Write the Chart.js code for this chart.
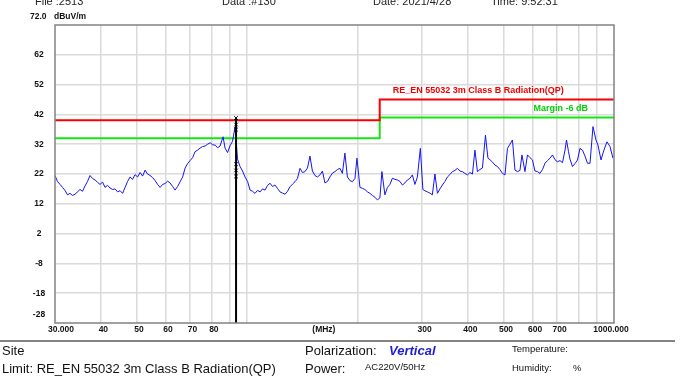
<!DOCTYPE html>
<html>
<head>
<meta charset="utf-8">
<script src="https://cdn.jsdelivr.net/npm/chart.js@4/dist/chart.umd.min.js"></script>
<style>
  html, body { margin: 0; padding: 0; background: #fff; }
  canvas { display: block; }
</style>
</head>
<body>
<canvas id="emcChart" width="680" height="377"></canvas>
<script>
var freqs = [
  30.0, 30.47, 30.96, 31.45, 31.94, 32.45, 32.96, 33.48, 34.01, 34.55,
  35.10, 35.65, 36.22, 36.79, 37.37, 37.96, 38.57, 39.18, 39.80, 40.43,
  41.06, 41.71, 42.37, 43.04, 43.73, 44.42, 45.12, 45.83, 46.56, 47.30,
  48.04, 48.80, 49.57, 50.36, 51.16, 51.97, 52.79, 53.62, 54.47, 55.33,
  56.21, 57.10, 58.00, 58.92, 59.85, 60.80, 61.76, 62.74, 63.73, 64.74,
  65.76, 66.80, 67.86, 68.93, 70.02, 71.13, 72.23, 73.37, 74.53, 75.71,
  76.94, 78.16, 79.40, 80.65, 81.9, 83.2, 84.49, 86.1, 87.18, 88.56,
  89.96, 91.38, 92.81, 94.28, 95.77, 97.28, 98.82, 100.4, 101.97, 103.6,
  105.2, 106.9, 108.6, 110.3, 112.0, 113.8, 115.6, 117.4, 119.2, 121.1,
  123.0, 125.0, 127.0, 129.0, 131.0, 133.1, 135.2, 137.3, 139.5, 141.7,
  143.9, 146.2, 148.5, 150.8, 153.2, 155.6, 158.1, 160.6, 163.1, 165.7,
  168.3, 171.0, 173.7, 176.4, 179.2, 182.0, 184.9, 187.8, 190.8, 193.8,
  196.9, 199.4, 203.2, 206.4, 209.6, 213.0, 216.3, 219.7, 223.2, 226.7,
  230.3, 233.2, 237.6, 241.4, 245.2, 249.1, 253.0, 257.0, 261.1, 265.2,
  269.4, 273.7, 277.9, 282.3, 286.8, 291.3, 296.8, 301.5, 305.4, 310.2,
  315.0, 320.0, 325.2, 330.3, 335.5, 340.8, 346.2, 351.7, 357.2, 362.9,
  368.6, 374.4, 380.3, 386.3, 392.6, 398.8, 405.1, 411.5, 418.0, 424.6,
  431.3, 438.1, 446.5, 453.5, 459.2, 466.5, 473.9, 481.4, 489.0, 496.7,
  504.6, 512.6, 520.7, 528.9, 537.3, 545.8, 554.4, 561.4, 572.1, 581.1,
  590.3, 599.6, 609.1, 618.7, 628.6, 638.5, 648.6, 658.9, 669.3, 679.9,
  690.6, 701.5, 712.6, 723.9, 735.4, 742.4, 751.8, 758.8, 770.8, 782.9,
  795.3, 807.9, 820.7, 833.6, 846.8, 860.2, 876.5, 893.1, 904.4, 921.7,
  933.3, 945.1, 957.0, 975.2, 993.6
]
var levels = [
  21.5, 19.5, 18.5, 17.5, 16.5, 15, 15.5, 14.8, 15.2, 16,
  16.8, 16.2, 18, 19.5, 21.5, 20.5, 20, 19.2, 18.5, 19.3,
  17.5, 18.2, 17.3, 16.8, 17, 16, 16.4, 15.5, 17.5, 19.5,
  21, 20.2, 21.8, 21, 22.5, 21.3, 23.3, 22, 21.5, 20.8,
  19.8, 18.5, 17.5, 18.5, 18.8, 19.6, 19, 17.8, 16.6, 17.8,
  19.4, 21, 24, 25.5, 26.5, 27.5, 29.5, 30, 30.7, 31.2,
  31.4, 32, 32.5, 31.8, 31.7, 30.8, 31.4, 34.5, 30.7, 29.2,
  31.5, 33, 37.8, 27, 24.5, 23, 21, 19.5, 16.6, 16.2,
  15.5, 16.5, 16, 17, 16.6, 18.2, 18.9, 17.8, 18.3, 17.2,
  16, 15.6, 15.2, 16.2, 17.7, 18.6, 19.4, 20.5, 23.9, 22.5,
  22.8, 24, 28, 23, 21.5, 21, 21.7, 23, 19, 19.5,
  21, 22.3, 22.8, 23.5, 23.9, 22.2, 29, 21, 19.8, 19.4,
  20.5, 27.3, 17.5, 17.2, 16.8, 16, 15.5, 14.8, 14.2, 13.3,
  14, 22.8, 15, 17.5, 18.5, 20.6, 20.2, 20, 19.5, 18.3,
  19, 20, 20.5, 21.7, 18.5, 21, 30.6, 16.8, 16.4, 16,
  15.6, 15, 22, 15.5, 17, 18.3, 19.5, 21, 21.8, 22.8,
  23.2, 23.9, 23, 22.8, 22.2, 21.7, 22.5, 22, 30, 22.8,
  23.5, 24, 35, 27.3, 26.8, 26, 25, 24.5, 23.5, 22.2,
  21.7, 30.6, 32, 33.4, 23.3, 22.8, 23.2, 28.4, 22.8, 28.4,
  27.5, 26.7, 23, 22.8, 22.2, 23.5, 25.6, 26.5, 27.3, 28.4,
  26.8, 26.1, 26.5, 25.8, 30, 33.4, 29.5, 27, 24.5, 25.5,
  26.7, 30.6, 30, 28, 25.6, 25.6, 37.9, 33.4, 31.7, 26.7,
  29, 31, 32.8, 31.2, 27.3
]

// EN 55032 class B 3m QP limit and -6 dB margin (step at 230 MHz)
var limitFreqs = [30, 230, 230, 1000]
var limitQP = [40, 40, 47, 47]
var limitMargin = [34, 34, 41, 41]

// marker at 93.4 MHz
var markerFreq = 93.4
var markerLevels = [40.8, 38.6, 36.9, 25.3, 23.2, 21.2]

// axis
var yTicks = [62, 52, 42, 32, 22, 12, 2, -8, -18, -28]
var xGrid = [40, 50, 60, 70, 80, 90, 100, 200, 300, 400, 500, 600, 700, 800, 900]
var xLabels = [40, 50, 60, 70, 80, 300, 400, 500, 600, 700]

function pairs(xs, ys) {
  return xs.map(function (x, i) { return { x: x, y: ys[i] } })
}

var textPlugin = {
  id: 'emcText',
  beforeDraw: function (chart) {
    var c = chart.ctx
    c.save()
    c.fillStyle = '#fff'
    c.fillRect(0, 0, chart.width, chart.height)
    c.restore()
  },
  afterDraw: function (chart) {
    var c = chart.ctx
    var xs = chart.scales.x
    var ys = chart.scales.y
    var a = chart.chartArea
    c.save()

    // plot frame
    c.strokeStyle = 'rgb(130,130,130)'
    c.lineWidth = 1.5
    c.strokeRect(a.left, a.top, a.right - a.left, a.bottom - a.top)

    // header (cut off at the top edge)
    c.fillStyle = '#222'
    c.font = '11px "Liberation Sans", Arial, sans-serif'
    c.textAlign = 'left'
    c.textBaseline = 'alphabetic'
    c.fillText('File :2513', 35, 5)
    c.fillText('Data :#130', 222, 5)
    c.fillText('Date: 2021/4/28', 373, 5)
    c.fillText('Time: 9:52:31', 491, 5)

    // y labels
    c.fillStyle = '#111'
    c.font = 'bold 8.5px "Liberation Sans", Arial, sans-serif'
    c.textBaseline = 'middle'
    c.fillText('72.0', 30, 17)
    c.fillText('dBuV/m', 54, 17)
    c.textAlign = 'center'
    yTicks.forEach(function (v) {
      var py = ys.getPixelForValue(v)
      if (v === -28) py -= 8
      c.fillText(String(v), 39, py)
    })

    // x labels
    var ly = 330
    xLabels.forEach(function (v) {
      c.fillText(String(v), xs.getPixelForValue(v) + 2.5, ly)
    })
    c.fillText('30.000', xs.getPixelForValue(30) + 6, ly)
    c.fillText('1000.000', xs.getPixelForValue(1000) - 3, ly)
    c.fillText('(MHz)', a.left + (a.right - a.left) * 0.481, ly)

    // limit captions
    c.font = 'bold 9px "Liberation Sans", Arial, sans-serif'
    c.fillStyle = 'rgb(240,0,0)'
    c.textAlign = 'left'
    c.fillText('RE_EN 55032 3m Class B Radiation(QP)', xs.getPixelForValue(230) + 13, ys.getPixelForValue(47) - 9)
    c.fillStyle = 'rgb(0,210,0)'
    c.textAlign = 'right'
    c.fillText('Margin -6 dB', a.right - 26, ys.getPixelForValue(41) - 9)

    // footer
    c.strokeStyle = 'rgb(90,90,90)'
    c.lineWidth = 1.5
    c.beginPath()
    c.moveTo(0, 341)
    c.lineTo(675, 341)
    c.stroke()

    c.textAlign = 'left'
    c.textBaseline = 'middle'
    c.fillStyle = '#111'
    c.font = '13px "Liberation Sans", Arial, sans-serif'
    c.fillText('Site', 2, 351)
    c.fillText('Limit: RE_EN 55032 3m Class B Radiation(QP)', 2, 369)
    c.fillText('Polarization:', 305, 351)
    c.fillText('Power:', 305, 369)
    c.fillStyle = 'rgb(30,30,210)'
    c.font = 'italic bold 13px "Liberation Sans", Arial, sans-serif'
    c.fillText('Vertical', 389, 351)
    c.fillStyle = '#111'
    c.font = '9.5px "Liberation Sans", Arial, sans-serif'
    c.fillText('AC220V/50Hz', 365, 367)
    c.fillText('Temperature:', 512, 349)
    c.fillText('Humidity:', 512, 368)
    c.fillText('%', 573, 368)
    c.restore()
  }
}

var ctx = document.getElementById('emcChart').getContext('2d')
var emcChart = new Chart(ctx, {
  type: 'line',
  data: {
    datasets: [
      {
        label: 'Marker',
        data: [{ x: markerFreq, y: -28 }, { x: markerFreq, y: 41 }],
        borderColor: '#000',
        borderWidth: 2,
        pointRadius: 0
      },
      {
        label: 'Marker points',
        data: markerLevels.map(function (v) { return { x: markerFreq, y: v } }),
        showLine: false,
        pointStyle: 'crossRot',
        pointRadius: 2.5,
        borderColor: '#000',
        borderWidth: 1
      },
      {
        label: 'Vertical',
        data: pairs(freqs, levels),
        borderColor: 'rgb(20,20,245)',
        borderWidth: 1,
        pointRadius: 0,
        tension: 0
      },
      {
        label: 'Limit QP',
        data: pairs(limitFreqs, limitQP),
        borderColor: 'rgb(250,0,0)',
        borderWidth: 2,
        pointRadius: 0
      },
      {
        label: 'Margin',
        data: pairs(limitFreqs, limitMargin),
        borderColor: 'rgb(20,230,20)',
        borderWidth: 2,
        pointRadius: 0
      }
    ]
  },
  options: {
    responsive: false,
    animation: false,
    layout: { padding: { left: 55, top: 25, right: 66, bottom: 54 } },
    plugins: {
      legend: { display: false },
      tooltip: { enabled: false }
    },
    scales: {
      x: {
        type: 'logarithmic',
        min: 30,
        max: 1000,
        afterBuildTicks: function (s) {
          s.ticks = xGrid.map(function (v) { return { value: v } })
        },
        ticks: { display: false },
        grid: { color: 'rgb(218,218,218)', lineWidth: 1.5, drawTicks: false },
        border: { display: false }
      },
      y: {
        type: 'linear',
        min: -28,
        max: 72,
        afterBuildTicks: function (s) {
          s.ticks = yTicks.filter(function (v) { return v > -28 }).map(function (v) { return { value: v } })
        },
        ticks: { display: false },
        grid: { color: 'rgb(218,218,218)', lineWidth: 1.5, drawTicks: false },
        border: { display: false }
      }
    }
  },
  plugins: [textPlugin]
})
</script>
</body>
</html>
